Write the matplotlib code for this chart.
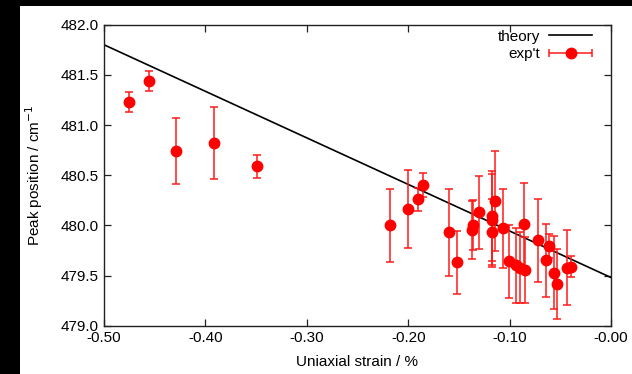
import numpy as np
import matplotlib
matplotlib.use("Agg")
import matplotlib.pyplot as plt
from matplotlib.patches import Rectangle
from matplotlib.legend_handler import HandlerErrorbar

plt.rcParams['font.family'] = ['Liberation Sans', 'DejaVu Sans']

# strain (%) / peak position (cm-1) / error
strain = [-0.4756, -0.4556, -0.4287, -0.392, -0.3488, -0.218, -0.1999, -0.1903, -0.185,
          -0.160, -0.152, -0.137, -0.1364, -0.130, -0.1174, -0.1174, -0.1172, -0.1147,
          -0.1062, -0.1006, -0.094, -0.090, -0.0862, -0.0845, -0.0717, -0.0638, -0.0611,
          -0.0562, -0.053, -0.0438, -0.0395]
peak = [481.23, 481.44, 480.74, 480.82, 480.59, 480.00, 480.16, 480.26, 480.40,
        479.93, 479.63, 479.95, 480.00, 480.13, 480.09, 480.05, 479.93, 480.24,
        479.97, 479.64, 479.60, 479.58, 480.01, 479.555, 479.85, 479.65, 479.79,
        479.53, 479.415, 479.58, 479.59]
peak_err = [0.10, 0.10, 0.33, 0.36, 0.115, 0.365, 0.39, 0.115, 0.12,
            0.43, 0.31, 0.29, 0.25, 0.365, 0.45, 0.46, 0.33, 0.50,
            0.39, 0.365, 0.37, 0.35, 0.41, 0.33, 0.41, 0.36, 0.12,
            0.36, 0.35, 0.37, 0.105]

theory_x = [-0.5, 0.0]
theory_y = [481.80, 479.48]

fig = plt.figure(figsize=(6.32, 3.74), dpi=100, facecolor='black')
# white page with black strip on left and top
fig.patches.append(Rectangle((20 / 632, 0), 1, 1 - 6 / 374, transform=fig.transFigure,
                             facecolor='white', edgecolor='none', zorder=-10))
ax = fig.add_axes([104 / 632, 48.3 / 374, 507 / 632, 301 / 374])

ax.plot(theory_x, theory_y, color='black', lw=1.2, label='theory', zorder=2)
ax.errorbar(strain, peak, yerr=peak_err, fmt='o', color='#ff0000', ecolor='#ff1a1a',
            ms=7.5, elinewidth=1.1, capsize=3, capthick=1.1, zorder=3)
# proxy for the legend (horizontal bar like gnuplot)
proxy = ax.errorbar([np.nan], [np.nan], xerr=[1], fmt='o', color='#ff0000', ecolor='#ff1a1a',
                    ms=7.5, elinewidth=1.1, capsize=3, capthick=1.1, label="exp't")

ax.set_xlim(-0.5, 0.0)
ax.set_ylim(479.0, 482.0)
ax.set_xticks(np.arange(-0.5, 0.001, 0.1))
ax.set_yticks(np.arange(479.0, 482.01, 0.5))
ax.set_xticklabels([f"{v:.2f}" for v in np.arange(-0.5, 0.001, 0.1)])
ax.set_yticklabels([f"{v:.1f}" for v in np.arange(479.0, 482.01, 0.5)])
ax.tick_params(direction='in', length=5, width=0.9, top=True, right=True,
               labelsize=11, colors='#222222', labelcolor='black', pad=4)
for s in ax.spines.values():
    s.set_linewidth(1.0)
    s.set_color('#222222')

ax.set_xlabel('Uniaxial strain / %', fontsize=11, labelpad=7)
ax.set_ylabel('Peak position / cm$^{-1}$', fontsize=11, labelpad=11)

ax.legend(loc='upper right', frameon=False, markerfirst=False, fontsize=11,
          handlelength=2.8, handletextpad=0.6, labelspacing=0.22,
          borderaxespad=0.0, bbox_to_anchor=(1 - 13 / 507, 1 + 1 / 301),
          numpoints=1, handler_map={proxy: HandlerErrorbar(xerr_size=1.4)})

fig.savefig('out.png', dpi=100, facecolor=fig.get_facecolor())
